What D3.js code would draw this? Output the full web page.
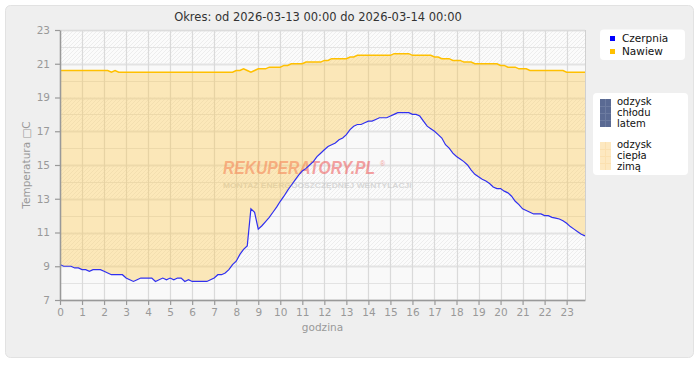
<!DOCTYPE html>
<html>
<head>
<meta charset="utf-8">
<script src="https://cdn.jsdelivr.net/npm/d3@7"></script>
<style>
  html, body { margin: 0; padding: 0; background: #ffffff; }
  svg { display: block; font-family: "DejaVu Sans", Verdana, sans-serif; }
</style>
</head>
<body>
<svg id="chart" width="700" height="380"></svg>
<script>
// ---- data ----
const titleText = "Okres: od 2026-03-13 00:00 do 2026-03-14 00:00";
const stepMinutes = 10;
const czerpnia = [
  9.1, 9.0, 9.0, 9.0, 8.9, 8.9, 8.8, 8.8, 8.7, 8.8, 8.8, 8.8,
  8.7, 8.6, 8.5, 8.5, 8.5, 8.5, 8.3, 8.2, 8.1, 8.2, 8.3, 8.3,
  8.3, 8.3, 8.1, 8.2, 8.3, 8.2, 8.3, 8.2, 8.3, 8.3, 8.1, 8.2,
  8.1, 8.1, 8.1, 8.1, 8.1, 8.2, 8.3, 8.5, 8.5, 8.6, 8.8, 9.1,
  9.3, 9.7, 10.0, 10.2, 12.4, 12.2, 11.2, 11.4, 11.65, 11.9, 12.2, 12.5,
  12.85, 13.15, 13.5, 13.8, 14.1, 14.4, 14.65, 14.8, 15.0, 15.2, 15.5, 15.7,
  15.9, 16.1, 16.2, 16.3, 16.5, 16.6, 16.8, 17.1, 17.3, 17.4, 17.4, 17.5,
  17.6, 17.6, 17.7, 17.8, 17.8, 17.8, 17.9, 18.0, 18.1, 18.1, 18.1, 18.1,
  18.0, 18.0, 17.9, 17.6, 17.3, 17.15, 17.0, 16.8, 16.6, 16.2, 16.0, 15.7,
  15.5, 15.35, 15.2, 15.0, 14.7, 14.45, 14.3, 14.15, 14.05, 13.9, 13.7, 13.6,
  13.6, 13.45, 13.35, 13.15, 12.85, 12.65, 12.4, 12.3, 12.2, 12.1, 12.1, 12.1,
  12.0, 12.0, 11.9, 11.85, 11.8, 11.7, 11.55, 11.35, 11.2, 11.05, 10.9, 10.8
];
const nawiew = [
  20.6, 20.6, 20.6, 20.6, 20.6, 20.6, 20.6, 20.6, 20.6, 20.6, 20.6, 20.6,
  20.6, 20.6, 20.5, 20.6, 20.5, 20.5, 20.5, 20.5, 20.5, 20.5, 20.5, 20.5,
  20.5, 20.5, 20.5, 20.5, 20.5, 20.5, 20.5, 20.5, 20.5, 20.5, 20.5, 20.5,
  20.5, 20.5, 20.5, 20.5, 20.5, 20.5, 20.5, 20.5, 20.5, 20.5, 20.5, 20.5,
  20.6, 20.6, 20.7, 20.6, 20.5, 20.6, 20.7, 20.7, 20.7, 20.8, 20.8, 20.8,
  20.8, 20.9, 20.9, 21.0, 21.0, 21.0, 21.0, 21.1, 21.1, 21.1, 21.1, 21.1,
  21.2, 21.2, 21.3, 21.3, 21.3, 21.3, 21.3, 21.4, 21.4, 21.5, 21.5, 21.5,
  21.5, 21.5, 21.5, 21.5, 21.5, 21.5, 21.5, 21.6, 21.6, 21.6, 21.6, 21.6,
  21.5, 21.5, 21.5, 21.5, 21.5, 21.5, 21.4, 21.4, 21.3, 21.3, 21.3, 21.2,
  21.2, 21.2, 21.1, 21.1, 21.1, 21.0, 21.0, 21.0, 21.0, 21.0, 21.0, 21.0,
  20.9, 20.9, 20.8, 20.8, 20.8, 20.7, 20.7, 20.7, 20.6, 20.6, 20.6, 20.6,
  20.6, 20.6, 20.6, 20.6, 20.6, 20.6, 20.5, 20.5, 20.5, 20.5, 20.5, 20.5
];
const xTicks = [0,1,2,3,4,5,6,7,8,9,10,11,12,13,14,15,16,17,18,19,20,21,22,23];
const yTicks = [7,9,11,13,15,17,19,21,23];
const yDomain = [7, 23];
const seriesNames = ["Czerpnia", "Nawiew"];
const seriesColors = ["#0000ff", "#ffc000"];
const recoveryLabels = [["odzysk","chłodu","latem"], ["odzysk","ciepła","zimą"]];
const xLabel = "godzina";
const yLabel = "Temperatura \u25A1C";

// ---- drawing ----
const svg = d3.select("#chart");
const M = {left: 60, right: 585, top: 30, bottom: 300};
const hours = czerpnia.map((d, i) => i * stepMinutes / 60);
const rows = hours.map((h, i) => ({h, c: czerpnia[i], n: nawiew[i]}));

const x = d3.scaleLinear().domain([0, hours[hours.length - 1]]).range([M.left, M.right]);
const y = d3.scaleLinear().domain(yDomain).range([M.bottom, M.top]);

const defs = svg.append("defs");
const pat = defs.append("pattern").attr("id", "hatch").attr("patternUnits", "userSpaceOnUse")
  .attr("width", 4).attr("height", 4);
pat.append("rect").attr("width", 4).attr("height", 4).attr("fill", "#fbfbfb");
pat.append("path").attr("d", "M-1,1 l2,-2 M0,4 l4,-4 M3,5 l2,-2")
  .attr("stroke", "#ebebeb").attr("stroke-width", 0.9);
const cl = defs.append("clipPath").attr("id", "plotclip");
cl.append("rect").attr("x", M.left).attr("y", M.top).attr("width", M.right - M.left).attr("height", M.bottom - M.top);

// outer panel
svg.append("rect").attr("x", 5.5).attr("y", 5.5).attr("width", 688).attr("height", 352)
  .attr("rx", 5).attr("fill", "#efefef").attr("stroke", "#e2e2e2");

// title
svg.append("text").attr("x", 318).attr("y", 21).attr("text-anchor", "middle")
  .attr("font-size", 11.5).attr("fill", "#333").text(titleText);

// plot background bands
const plot = svg.append("g");
plot.append("rect").attr("x", M.left).attr("y", M.top).attr("width", M.right - M.left)
  .attr("height", M.bottom - M.top).attr("fill", "#f9f9f9");
for (let k = 0; k < yTicks.length - 1; k++) {
  const lo = yTicks[k], hi = yTicks[k + 1];
  if (k % 2 === 1) {
    plot.append("rect").attr("x", M.left).attr("y", y(hi)).attr("width", M.right - M.left)
      .attr("height", y(lo) - y(hi)).attr("fill", "url(#hatch)");
  }
}
// grid
const minorY = d3.range(yDomain[0], yDomain[1] + 1, 1);
plot.selectAll(".gy").data(minorY).join("line")
  .attr("x1", M.left).attr("x2", M.right)
  .attr("y1", d => Math.round(y(d)) + 0.5).attr("y2", d => Math.round(y(d)) + 0.5)
  .attr("stroke", "#e3e3e3")
  .attr("stroke-width", d => yTicks.includes(d) ? 2 : 1.2);
plot.selectAll(".gx").data(xTicks).join("line")
  .attr("y1", M.top).attr("y2", M.bottom)
  .attr("x1", d => Math.round(x(d)) + 0.5).attr("x2", d => Math.round(x(d)) + 0.5)
  .attr("stroke", "#dadada").attr("stroke-width", 1.2);

// watermark
const wm = svg.append("g").attr("opacity", 0.62);
const wmFont = "Liberation Sans, Arial, sans-serif";
const wmMain = wm.append("text").attr("font-family", wmFont)
  .attr("font-weight", "bold").attr("font-style", "italic").attr("font-size", 18.5)
  .attr("fill", "#f06a6a").text("REKUPERATORY.PL");
{
  const w = wmMain.node().getComputedTextLength();
  const s = 152 / w;
  wmMain.attr("transform", `translate(223,174) scale(${s},1)`);
}
wm.append("text").attr("x", 380).attr("y", 166).attr("font-family", wmFont)
  .attr("font-size", 7).attr("fill", "#f06a6a").text("®");
const wmSub = wm.append("text").attr("font-family", wmFont)
  .attr("font-weight", "bold").attr("font-size", 8)
  .attr("fill", "#c4c4c4").text("MONTAŻ ENERGOOSZCZĘDNEJ WENTYLACJI");
{
  const w = wmSub.node().getComputedTextLength();
  wmSub.attr("transform", `translate(223,188) scale(${189 / w},1)`);
}

// recovery area (heat: nawiew above czerpnia)
const area = d3.area().x(d => x(d.h)).y0(d => y(d.c)).y1(d => y(d.n));
svg.append("path").datum(rows).attr("d", area)
  .attr("fill", "rgb(255,200,70)").attr("fill-opacity", 0.36).attr("clip-path", "url(#plotclip)");

// lines
const lineN = d3.line().x(d => x(d.h)).y(d => y(d.n));
const lineC = d3.line().x(d => x(d.h)).y(d => y(d.c));
svg.append("path").datum(rows).attr("d", lineN).attr("fill", "none")
  .attr("stroke", "#ffc000").attr("stroke-width", 1.5);
svg.append("path").datum(rows).attr("d", lineC).attr("fill", "none")
  .attr("stroke", "#3030f0").attr("stroke-width", 1.2);

// plot frame top/right
svg.append("line").attr("x1", M.left).attr("x2", M.right).attr("y1", M.top + 0.5).attr("y2", M.top + 0.5)
  .attr("stroke", "#dcdcdc");
svg.append("line").attr("x1", M.right + 0.5).attr("x2", M.right + 0.5).attr("y1", M.top).attr("y2", M.bottom)
  .attr("stroke", "#d0d0d0");

// axes
const yAxis = svg.append("g").attr("transform", `translate(${M.left},0)`)
  .call(d3.axisLeft(y).tickValues(yTicks).tickSize(5).tickPadding(5).tickSizeOuter(0));
const xAxis = svg.append("g").attr("transform", `translate(0,${M.bottom})`)
  .call(d3.axisBottom(x).tickValues(xTicks).tickSize(5).tickPadding(4).tickSizeOuter(0));
[yAxis, xAxis].forEach(g => {
  g.select(".domain").attr("stroke", "#999").attr("stroke-width", 1.5);
  g.selectAll(".tick line").attr("stroke", "#999").attr("stroke-width", 1.2);
  g.selectAll(".tick text").attr("fill", "#999").attr("font-size", 10.5)
    .attr("font-family", "DejaVu Sans, Verdana, sans-serif");
});

svg.append("text").attr("x", (M.left + M.right) / 2).attr("y", 331).attr("text-anchor", "middle")
  .attr("font-size", 10.5).attr("fill", "#999").text(xLabel);
svg.append("text").attr("transform", `translate(30,${(M.top + M.bottom) / 2}) rotate(-90)`)
  .attr("text-anchor", "middle").attr("font-size", 10.5).attr("fill", "#999").text(yLabel);

// legend 1
const lg = svg.append("g");
lg.append("rect").attr("x", 600).attr("y", 29.5).attr("width", 85).attr("height", 30.5).attr("rx", 4)
  .attr("fill", "#fff");
seriesNames.forEach((name, i) => {
  lg.append("rect").attr("x", 610).attr("y", 36 + i * 13).attr("width", 5).attr("height", 5)
    .attr("fill", seriesColors[i]);
  lg.append("text").attr("x", 622).attr("y", 42 + i * 13).attr("font-size", 10.5).attr("fill", "#111")
    .text(name);
});

// legend 2
const lg2 = svg.append("g");
lg2.append("rect").attr("x", 593).attr("y", 93).attr("width", 95).attr("height", 82).attr("rx", 4)
  .attr("fill", "#fff");
const swatchColors = ["#5a6a93", "#fde8c0"];
const swatchGrid = ["#6c7ba0", "#fbe0b0"];
recoveryLabels.forEach((lines, i) => {
  const y0 = 99 + i * 43;
  lg2.append("rect").attr("x", 600).attr("y", y0).attr("width", 11).attr("height", 28)
    .attr("fill", swatchColors[i]);
  [7, 14, 21].forEach(dy => lg2.append("line").attr("x1", 600).attr("x2", 611)
    .attr("y1", y0 + dy + 0.5).attr("y2", y0 + dy + 0.5).attr("stroke", swatchGrid[i]));
  lg2.append("line").attr("x1", 605.5).attr("x2", 605.5).attr("y1", y0).attr("y2", y0 + 28)
    .attr("stroke", swatchGrid[i]);
  lines.forEach((t, j) => {
    lg2.append("text").attr("x", 617).attr("y", y0 + 6 + j * 11).attr("font-size", 10)
      .attr("fill", "#111").text(t);
  });
});
</script>
</body>
</html>
